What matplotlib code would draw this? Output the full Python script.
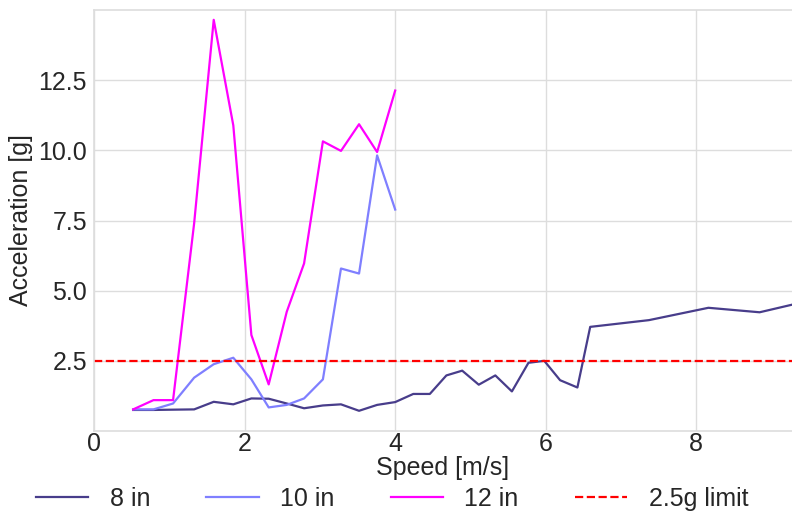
import matplotlib
matplotlib.use("Agg")
import matplotlib.pyplot as plt

plt.rcParams['font.family'] = ['Liberation Sans', 'DejaVu Sans']

speed_8 = [0.52, 0.79, 1.05, 1.33, 1.59, 1.85, 2.09, 2.32, 2.56, 2.79, 3.04, 3.28, 3.52, 3.76, 4.0,
           4.24, 4.46, 4.68, 4.89, 5.11, 5.33, 5.55, 5.77, 5.98, 6.19, 6.42, 6.59, 7.37, 8.16, 8.84, 9.27]
acc_8 = [0.75, 0.75, 0.76, 0.77, 1.04, 0.95, 1.16, 1.15, 0.98, 0.81, 0.91, 0.95, 0.72, 0.93, 1.03,
         1.32, 1.32, 1.98, 2.15, 1.65, 1.98, 1.41, 2.43, 2.50, 1.81, 1.55, 3.71, 3.95, 4.39, 4.23, 4.5]

speed_10 = [0.52, 0.79, 1.05, 1.33, 1.59, 1.85, 2.09, 2.32, 2.56, 2.79, 3.04, 3.28, 3.52, 3.76, 4.0]
acc_10 = [0.77, 0.77, 0.98, 1.90, 2.38, 2.61, 1.84, 0.84, 0.93, 1.16, 1.84, 5.79, 5.61, 9.82, 7.89]

speed_12 = [0.52, 0.79, 1.05, 1.33, 1.59, 1.85, 2.09, 2.32, 2.56, 2.79, 3.04, 3.28, 3.52, 3.76, 4.0]
acc_12 = [0.77, 1.10, 1.10, 7.4, 14.65, 10.89, 3.42, 1.66, 4.25, 5.97, 10.32, 9.98, 10.93, 9.94, 12.13]

limit = 2.5
labels = ["8 in", "10 in", "12 in", "2.5g limit"]

fig = plt.figure(figsize=(7.92, 5.15), dpi=100)
ax = fig.add_axes([94/792, (515-431)/515, (792-94)/792, 421/515])

ax.plot(speed_8, acc_8, color="#483D8B", lw=1.6, label=labels[0])
ax.plot(speed_10, acc_10, color="#7F7FFF", lw=1.6, label=labels[1])
ax.plot(speed_12, acc_12, color="#FF00FF", lw=1.6, label=labels[2])
ax.axhline(limit, color="red", ls="--", lw=1.6, label=labels[3])

ax.set_xlim(0, 9.27)
ax.set_ylim(0, 15)
ax.set_xticks([0, 2, 4, 6, 8])
ax.set_yticks([2.5, 5.0, 7.5, 10.0, 12.5])
ax.set_yticklabels(["2.5", "5.0", "7.5", "10.0", "12.5"])
ax.grid(True, color="#dddddd", lw=1)
ax.set_axisbelow(True)
for s in ax.spines.values():
    s.set_color("#dddddd")
    s.set_linewidth(1.2)
ax.spines['right'].set_visible(False)
ax.tick_params(axis='both', length=0, labelsize=18, colors="#262626")
ax.tick_params(axis='x', pad=1)
ax.tick_params(axis='y', pad=5)
ax.set_xlabel("Speed [m/s]", fontsize=18, color="#262626", labelpad=0)
ax.set_ylabel("Acceleration [g]", fontsize=18, color="#262626", labelpad=4)

fig.legend(loc="lower center", bbox_to_anchor=(0.495, -0.035), ncol=4, frameon=False,
           fontsize=18, handlelength=2.1, columnspacing=2.25, handletextpad=0.85,
           labelcolor="#262626")

fig.savefig("out.png", dpi=100)
